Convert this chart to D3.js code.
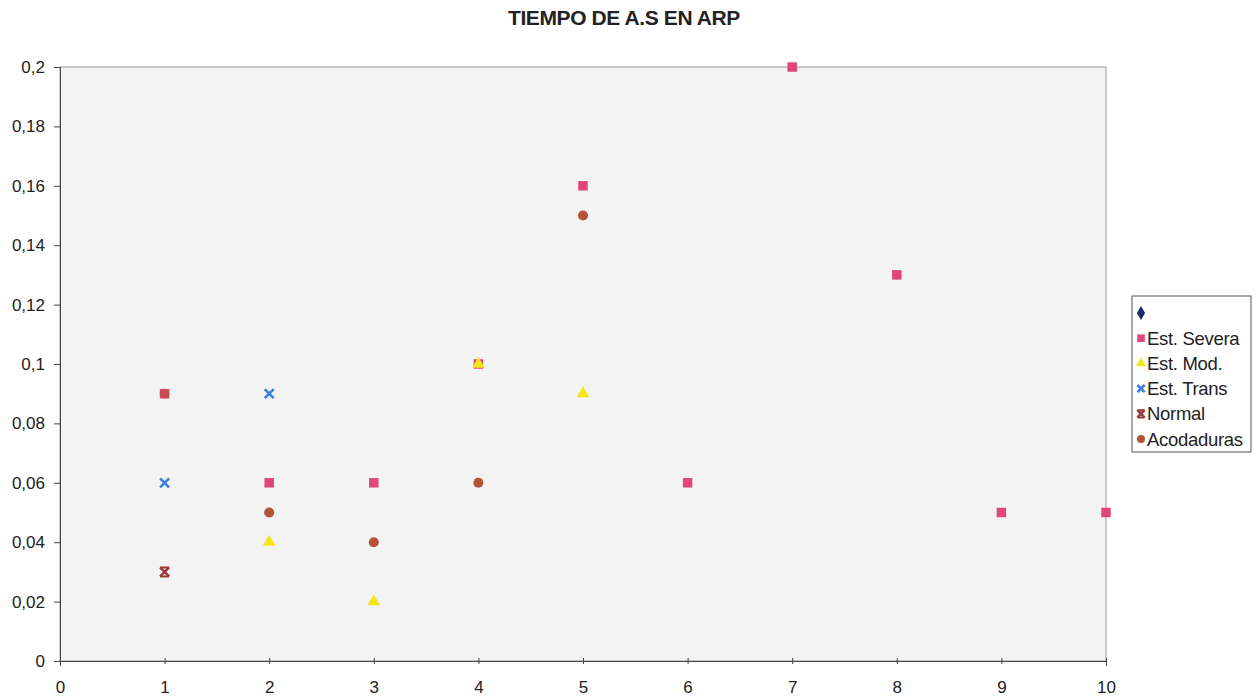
<!DOCTYPE html>
<html>
<head>
<meta charset="utf-8">
<script src="https://cdn.jsdelivr.net/npm/d3@7"></script>
<style>
  body { margin: 0; background: #fff; }
  svg { font-family: "Liberation Sans", Arial, sans-serif; }
</style>
</head>
<body>
<svg id="chart" width="1258" height="698"></svg>
<script>
// series data [x, y]
const seriesNames = ['', 'Est. Severa', 'Est. Mod.', 'Est. Trans', 'Normal', 'Acodaduras'];
const blank = [];
const severa = [[1, 0.09], [2, 0.06], [3, 0.06], [4, 0.1], [5, 0.16], [6, 0.06], [7, 0.2], [8, 0.13], [9, 0.05], [10, 0.05]];
const moderada = [[2, 0.04], [3, 0.02], [4, 0.1], [5, 0.09]];
const trans = [[1, 0.06], [2, 0.09]];
const normal = [[1, 0.03]];
const acodaduras = [[1, 0.09], [2, 0.05], [3, 0.04], [4, 0.06], [5, 0.15]];
const xTicks = [0, 1, 2, 3, 4, 5, 6, 7, 8, 9, 10];
const yTicks = [0, 0.02, 0.04, 0.06, 0.08, 0.1, 0.12, 0.14, 0.16, 0.18, 0.2];

const series = [
  { name: seriesNames[0], data: blank, shape: 'diamond', color: '#1f2a6b' },
  { name: seriesNames[1], data: severa, shape: 'square', color: '#e0457b' },
  { name: seriesNames[5], data: acodaduras.slice(0, 1), shape: 'circle', color: '#b5533a', alpha: 0.6 }, // overlaps the square at (1; 0,09)
  { name: seriesNames[2], data: moderada, shape: 'triangle', color: '#f5e61a' },
  { name: seriesNames[3], data: trans, shape: 'cross', color: '#3b7fe0' },
  { name: seriesNames[4], data: normal, shape: 'star', color: '#9c3a3a' },
  { name: seriesNames[5], data: acodaduras.slice(1), shape: 'circle', color: '#b5533a' }
];
const legendItems = [series[0], series[1], series[3], series[4], series[5], series[6]];

const svg = d3.select('#chart');
const x = d3.scaleLinear().domain([0, 10]).range([60, 1106]);
const y = d3.scaleLinear().domain([0, 0.2]).range([661, 67]);
const fmt = d => String(d).replace('.', ',');

svg.append('text')
  .attr('x', 624).attr('y', 25)
  .attr('text-anchor', 'middle')
  .attr('font-size', 21).attr('font-weight', 'bold')
  .attr('letter-spacing', -0.4)
  .attr('fill', '#222')
  .text('TIEMPO DE A.S EN ARP');

svg.append('rect')
  .attr('x', x(0)).attr('y', y(0.2))
  .attr('width', x(10) - x(0)).attr('height', y(0) - y(0.2))
  .attr('fill', '#f3f3f3').attr('stroke', '#9a9a9a').attr('stroke-width', 1);

const yAxis = svg.append('g')
  .attr('transform', `translate(${x(0)},0)`)
  .call(d3.axisLeft(y).tickValues(yTicks).tickFormat(fmt).tickSize(6).tickPadding(9));
const xAxis = svg.append('g')
  .attr('transform', `translate(0,${y(0)})`)
  .call(d3.axisBottom(x).tickValues(xTicks).tickFormat(d => d).tickSize(5).tickPadding(15));
[yAxis, xAxis].forEach(a => {
  a.select('.domain').attr('stroke', '#444');
  a.selectAll('.tick line').attr('stroke', '#444');
  a.selectAll('.tick text').attr('font-size', 17).attr('fill', '#222')
    .attr('font-family', '"Liberation Sans", Arial, sans-serif');
});
xAxis.selectAll('.tick line').attr('y1', -3).attr('y2', 3);

const symbols = {
  diamond: d3.symbolDiamond,
  square: d3.symbolSquare,
  triangle: d3.symbolTriangle,
  circle: d3.symbolCircle
};

function drawMarker(g, shape, color, size, alpha) {
  if (shape === 'cross' || shape === 'star') {
    const r = size;
    g.append('path')
      .attr('d', `M${-r},${-r}L${r},${r}M${-r},${r}L${r},${-r}`)
      .attr('stroke', color).attr('stroke-width', 2.6).attr('fill', 'none');
    if (shape === 'star') {
      g.append('path')
        .attr('d', `M${-r},${-r}L${r},${-r}M${-r},${r}L${r},${r}`)
        .attr('stroke', color).attr('stroke-width', 2).attr('fill', 'none');
    }
  } else {
    const area = (shape === 'triangle' ? 70 : shape === 'circle' ? 80 : 90) * (size / 4.5) * (size / 4.5);
    g.append('path')
      .attr('d', d3.symbol().type(symbols[shape]).size(area)())
      .attr('fill', color)
      .attr('fill-opacity', alpha || 1);
  }
}

series.forEach(s => {
  s.data.forEach(p => {
    const g = svg.append('g').attr('transform', `translate(${x(p[0])},${y(p[1])})`);
    drawMarker(g, s.shape, s.color, 4.5, s.alpha);
  });
});

// legend
const lg = svg.append('g').attr('transform', 'translate(1132,296)');
lg.append('rect').attr('width', 119).attr('height', 156)
  .attr('fill', '#fff').attr('stroke', '#555').attr('stroke-width', 1);
legendItems.forEach((s, i) => {
  const row = lg.append('g').attr('transform', `translate(9,${17 + i * 25.2})`);
  drawMarker(row.append('g'), s.shape, s.color, 3.6);
  row.append('text').attr('x', 6).attr('y', 6.5)
    .attr('font-size', 18.5).attr('letter-spacing', -0.3)
    .attr('fill', '#222').text(s.name);
});
</script>
</body>
</html>
